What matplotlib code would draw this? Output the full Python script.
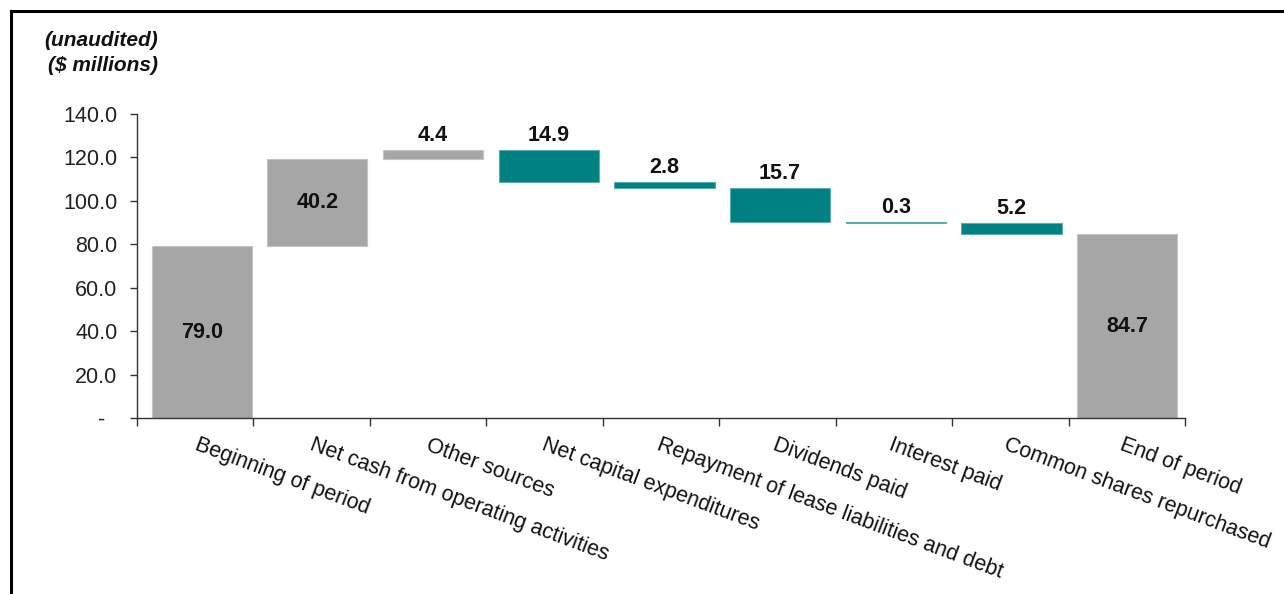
import matplotlib
matplotlib.use("Agg")
import numpy as np
import matplotlib.pyplot as plt
from matplotlib.lines import Line2D
from matplotlib.ticker import FixedLocator, FuncFormatter

plt.rcParams["font.family"] = ["Liberation Sans", "DejaVu Sans"]

# Cash flow bridge ($ millions)
categories = [
    "Beginning of period",
    "Net cash from operating activities",
    "Other sources",
    "Net capital expenditures",
    "Repayment of lease liabilities and debt",
    "Dividends paid",
    "Interest paid",
    "Common shares repurchased",
    "End of period",
]
opening_balance = 79.0
changes = [40.2, 4.4, -14.9, -2.8, -15.7, -0.3, -5.2]
closing_balance = 84.7
y_ticks = [0, 20, 40, 60, 80, 100, 120, 140]

GREY = "#A6A6A6"
GREY_EDGE = "#C4C4C4"
TEAL = "#008080"
TEAL_EDGE = "#5AAEAE"
FS = 15.5

fig = plt.figure(figsize=(12.84, 5.94), dpi=100)
ax = fig.add_axes([0.1067, 0.2963, 0.8162, 0.5118])

width = 0.865
label_kw = dict(ha="center", fontsize=FS, fontweight="bold", color="#111111")

# Opening balance
ax.bar(0, opening_balance, width=width, color=GREY, edgecolor=GREY_EDGE, linewidth=0.8)
ax.text(0, opening_balance / 2, f"{opening_balance:.1f}", va="center", **label_kw)

# Movements
running = opening_balance
for i, delta in enumerate(changes, start=1):
    lo = running + min(delta, 0)
    hi = running + max(delta, 0)
    if delta > 0:
        fc, ec = GREY, GREY_EDGE
    else:
        fc, ec = TEAL, TEAL_EDGE
    ax.bar(i, hi - lo, bottom=lo, width=width, color=fc, edgecolor=ec, linewidth=0.8)
    if abs(delta) > 20:
        ax.text(i, (lo + hi) / 2, f"{abs(delta):.1f}", va="center", **label_kw)
    else:
        ax.annotate(f"{abs(delta):.1f}", xy=(i, hi), xytext=(0, 6.5),
                    textcoords="offset points", va="baseline", **label_kw)
    running += delta

# Closing balance
n = len(categories) - 1
ax.bar(n, closing_balance, width=width, color=GREY, edgecolor=GREY_EDGE, linewidth=0.8)
ax.text(n, closing_balance / 2, f"{closing_balance:.1f}", va="center", **label_kw)

# Axes styling
x_lo, x_hi = -0.56, len(categories) - 0.5
ax.set_xlim(x_lo, x_hi)
ax.set_ylim(0, 140)
for side in ("top", "right"):
    ax.spines[side].set_visible(False)
for side in ("left", "bottom"):
    ax.spines[side].set_color("#333333")
    ax.spines[side].set_linewidth(1.0)

ax.yaxis.set_major_locator(FixedLocator(y_ticks))
ax.yaxis.set_major_formatter(FuncFormatter(lambda v, p: "-  " if v == 0 else f"{v:.1f}"))
ax.tick_params(axis="y", direction="out", length=5, width=1, color="#333333",
               pad=9, labelsize=FS, labelcolor="#222222")

# Category dividers carry the tick marks; labels hang below the bar centres
ax.set_xticks(np.linspace(x_lo, x_hi, len(categories) + 1))
ax.set_xticklabels([])
ax.tick_params(axis="x", direction="out", length=6, width=1, color="#333333")
for i, name in enumerate(categories):
    ax.annotate(name, xy=(i, 0), xycoords=("data", "axes fraction"),
                xytext=(-2, -12), textcoords="offset points",
                ha="left", va="top", rotation=-20.5, rotation_mode="anchor",
                fontsize=FS, color="#111111", annotation_clip=False)

# Units note
fig.text(0.123, 0.931, "(unaudited)", ha="right", va="center", fontsize=15,
         fontweight="bold", fontstyle="italic", color="#111111")
fig.text(0.123, 0.889, "($ millions)", ha="right", va="center", fontsize=15,
         fontweight="bold", fontstyle="italic", color="#111111")

# Frame lines along the top and left edge
fig.add_artist(Line2D([11 / 1284, 11 / 1284], [0, 1 - 11 / 594],
                      transform=fig.transFigure, color="black", linewidth=2.2))
fig.add_artist(Line2D([11 / 1284, 1], [1 - 11 / 594, 1 - 11 / 594],
                      transform=fig.transFigure, color="black", linewidth=2.2))

fig.savefig("out.png", dpi=100)
